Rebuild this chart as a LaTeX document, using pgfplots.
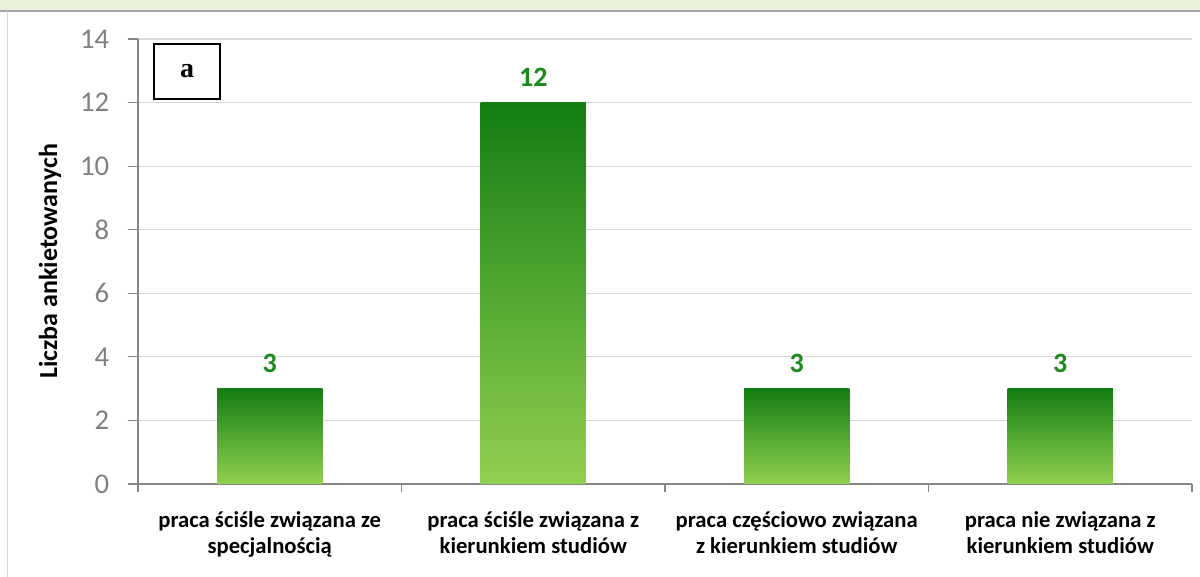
\documentclass[border=0pt]{standalone}
\usepackage{pgfplots}
\pgfplotsset{compat=1.18}
\usepackage{fontspec}
\setmainfont{Carlito}
\newfontfamily\serifbold{Liberation Serif}
\definecolor{axgray}{RGB}{134,134,134}
\definecolor{gridgray}{RGB}{217,217,217}
\definecolor{tickgray}{RGB}{128,128,128}
\definecolor{dgreen}{RGB}{18,126,18}
\definecolor{lgreen}{RGB}{146,208,80}
\definecolor{lblgreen}{RGB}{26,138,26}
\definecolor{topstrip}{RGB}{233,240,218}
\begin{document}
\begin{tikzpicture}
\useasboundingbox (0pt,0pt) rectangle (900pt,432.75pt);
\fill[white] (0pt,0pt) rectangle (900pt,432.75pt);
\fill[topstrip] (0pt,424.5pt) rectangle (900pt,432.75pt);
\draw[gray!70, line width=0.8pt] (0pt,424.5pt) -- (900pt,424.5pt);
\draw[gridgray, line width=0.6pt] (5.25pt,0pt) -- (5.25pt,424.5pt);
\begin{axis}[
  at={(103.5pt,69.75pt)}, anchor=south west,
  scale only axis,
  width=790.5pt, height=333.75pt,
  xmin=-0.5, xmax=3.5, ymin=0, ymax=14,
  axis lines*=left,
  axis line style={axgray, line width=0.8pt},
  ytick={0,2,...,14},
  ymajorgrids, major grid style={gridgray, line width=0.8pt},
  xtick={0,1,2,3},
  xticklabels={{praca ściśle związana ze\\specjalnością},{praca ściśle związana z\\kierunkiem studiów},{praca częściowo związana\\z kierunkiem studiów},{praca nie związana z\\kierunkiem studiów}},
  minor xtick={-0.5,0.5,1.5,2.5,3.5},
  major x tick style={draw=none},
  minor x tick style={axgray, line width=0.8pt},
  y tick style={axgray, line width=0.8pt},
  tick align=outside,
  major tick length=7.5pt,
  minor tick length=6pt,
  /pgf/number format/assume math mode=true,
  yticklabel style={font=\fontsize{21.5}{23}\selectfont, text=tickgray, inner sep=0pt, xshift=-14pt},
  xticklabel style={font=\fontsize{17}{20}\selectfont\bfseries, align=center, text=black, yshift=-9.5pt},
  ylabel={Liczba ankietowanych},
  ylabel style={font=\fontsize{19.5}{21}\selectfont\bfseries, at={(axis description cs:0,0.5)}, anchor=center, yshift=66pt},
  clip=false,
]
\addplot[ybar, bar width=0.4, draw=none, top color=dgreen, bottom color=lgreen,
  nodes near coords,
  nodes near coords style={font=\fontsize{21}{22}\selectfont\bfseries, text=lblgreen, anchor=south, inner sep=0pt, yshift=12pt}]
  coordinates {(0,3)};
\addplot[ybar, bar width=0.4, draw=none, top color=dgreen, bottom color=lgreen,
  nodes near coords,
  nodes near coords style={font=\fontsize{21}{22}\selectfont\bfseries, text=lblgreen, anchor=south, inner sep=0pt, yshift=12pt}]
  coordinates {(1,12)};
\addplot[ybar, bar width=0.4, draw=none, top color=dgreen, bottom color=lgreen,
  nodes near coords,
  nodes near coords style={font=\fontsize{21}{22}\selectfont\bfseries, text=lblgreen, anchor=south, inner sep=0pt, yshift=12pt}]
  coordinates {(2,3)};
\addplot[ybar, bar width=0.4, draw=none, top color=dgreen, bottom color=lgreen,
  nodes near coords,
  nodes near coords style={font=\fontsize{21}{22}\selectfont\bfseries, text=lblgreen, anchor=south, inner sep=0pt, yshift=12pt}]
  coordinates {(3,3)};
\node[draw=black, line width=1pt, minimum width=49.5pt, minimum height=41.25pt, font=\serifbold\fontsize{21}{22}\selectfont\bfseries] at (rel axis cs:0.0465,0.927) {a};
\end{axis}
\end{tikzpicture}
\end{document}
